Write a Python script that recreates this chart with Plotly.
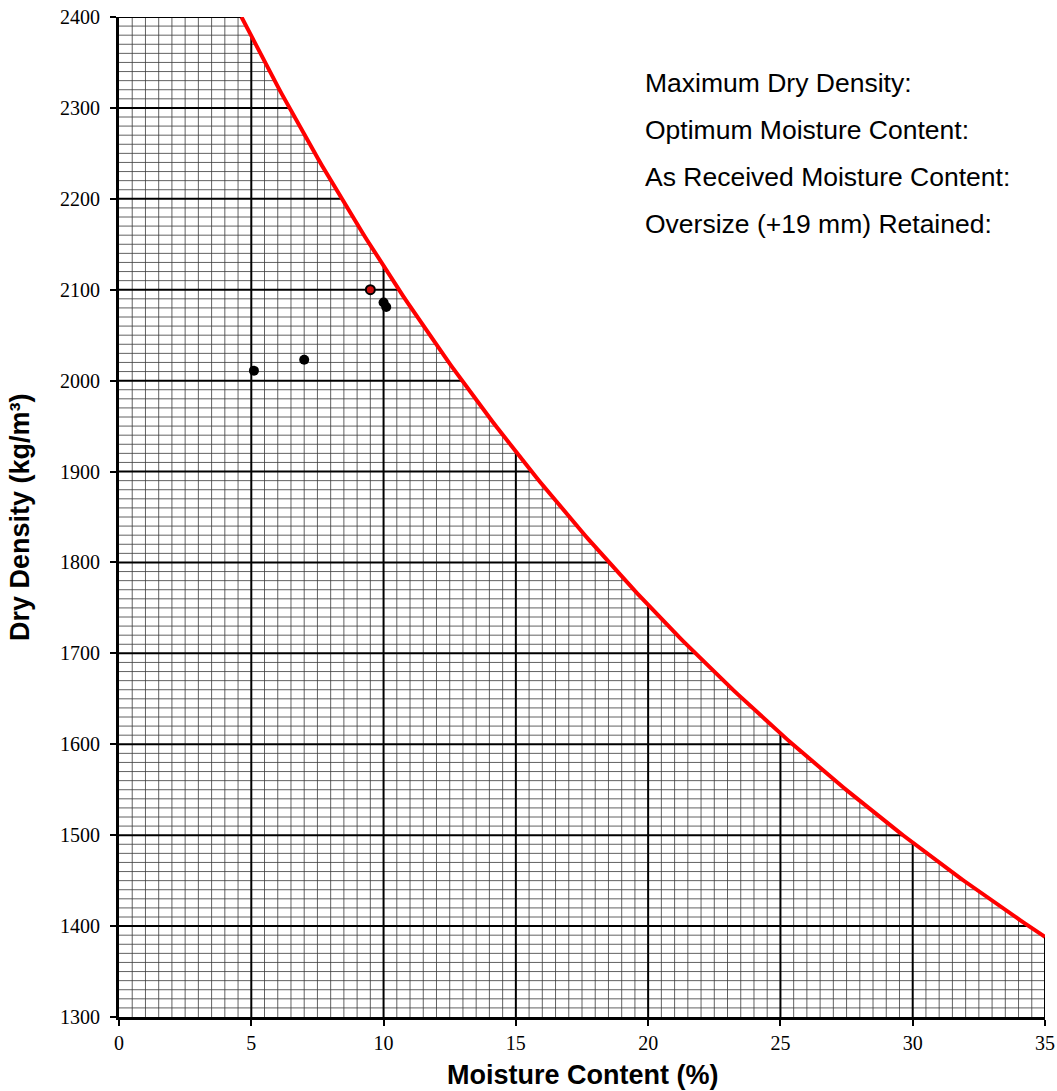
import numpy as np
import plotly.graph_objects as go

# zero air voids line, Gs = 2.70, water density 1000 kg/m3
specific_gravity = 2.70
water_density = 1000

# compaction test points (moisture %, dry density kg/m3)
test_moisture = [5.1, 7.0, 10.0, 10.1]
test_density = [2011, 2023, 2086, 2081]

# maximum dry density point
max_moisture = [9.5]
max_density = [2100]

x_ticks = [0, 5, 10, 15, 20, 25, 30, 35]
y_ticks = [1300, 1400, 1500, 1600, 1700, 1800, 1900, 2000, 2100, 2200, 2300, 2400]

info_lines = [
    "Maximum Dry Density:",
    "Optimum Moisture Content:",
    "As Received Moisture Content:",
    "Oversize (+19 mm) Retained:",
]

X_MIN, X_MAX = 0, 35
Y_MIN, Y_MAX = 1300, 2400

# plot area in pixels
L, R, T, B = 119, 1045, 17, 1017


def zav_density(w):
    return specific_gravity * water_density / (1 + np.asarray(w) / 100 * specific_gravity)


def zav_moisture(rho):
    return (specific_gravity * water_density / rho - 1) / specific_gravity * 100


def grid_trace(vert, horiz, color, width):
    xs, ys = [], []
    for x in vert:
        xs += [x, x, None]
        ys += [Y_MIN, min(float(zav_density(x)), Y_MAX), None]
    for y in horiz:
        xs += [X_MIN, min(float(zav_moisture(y)), X_MAX), None]
        ys += [y, y, None]
    return go.Scatter(x=xs, y=ys, mode="lines", line=dict(color=color, width=width),
                      hoverinfo="skip", showlegend=False)


def px_x(p):
    return (p - L) / (R - L)


def px_y(p):
    return 1 - (p - T) / (B - T)


minor_x = [v for v in np.arange(0.5, 35, 0.5) if abs(v % 5) > 1e-9]
minor_y = [v for v in range(1310, 2400, 10) if v % 100 != 0]
major_x = [5, 10, 15, 20, 25, 30, 35]
major_y = list(range(1400, 2401, 100))

w_start = zav_moisture(Y_MAX)
curve_w = np.linspace(w_start, X_MAX, 200)
curve_rho = zav_density(curve_w)

fig = go.Figure()
fig.add_trace(grid_trace(minor_x, minor_y, "#3a3a3a", 0.8))
fig.add_trace(grid_trace(major_x, major_y, "black", 2))
fig.add_trace(go.Scatter(x=curve_w, y=curve_rho, mode="lines",
                         line=dict(color="#ff0000", width=4), showlegend=False))
fig.add_trace(go.Scatter(x=test_moisture, y=test_density, mode="markers",
                         marker=dict(color="black", size=10), showlegend=False))
fig.add_trace(go.Scatter(x=max_moisture, y=max_density, mode="markers",
                         marker=dict(color="#d01010", size=9,
                                     line=dict(color="black", width=2)),
                         showlegend=False))

for i, txt in enumerate(info_lines):
    fig.add_annotation(x=px_x(643), y=px_y(83 + i * 47), xref="paper", yref="paper",
                       text=txt, showarrow=False, xanchor="left", yanchor="middle",
                       font=dict(family="Liberation Sans, Arial", size=26.5, color="black"))

title_font = dict(family="Liberation Sans, Arial", size=27, color="black")
fig.add_annotation(x=px_x(582), y=px_y(1075), xref="paper", yref="paper",
                   text="<b>Moisture Content (%)</b>", showarrow=False,
                   xanchor="center", yanchor="middle", font=title_font)
fig.add_annotation(x=px_x(20), y=0.5, xref="paper", yref="paper",
                   text="<b>Dry Density (kg/m³)</b>", showarrow=False, textangle=-90,
                   xanchor="center", yanchor="middle", font=title_font)

tick_font = dict(family="Liberation Serif, Times New Roman", size=20, color="black")
fig.update_layout(
    width=1057,
    height=1091,
    margin=dict(l=L, r=1057 - R, t=T, b=1091 - B),
    plot_bgcolor="white",
    paper_bgcolor="white",
    xaxis=dict(
        range=[X_MIN, X_MAX], tickvals=x_ticks, showgrid=False, zeroline=False,
        showline=True, linecolor="black", linewidth=3, automargin=False,
        ticks="outside", ticklen=6, tickwidth=2, tickcolor="black",
        ticklabelstandoff=0, tickfont=tick_font,
    ),
    yaxis=dict(
        range=[Y_MIN, Y_MAX], tickvals=y_ticks, showgrid=False, zeroline=False,
        showline=True, linecolor="black", linewidth=3, automargin=False,
        ticks="outside", ticklen=6, tickwidth=2, tickcolor="black",
        ticklabelstandoff=6, tickfont=tick_font,
    ),
)

fig.write_html("out.html", config={"displayModeBar": False},
               post_script="document.body.style.margin='0';")
